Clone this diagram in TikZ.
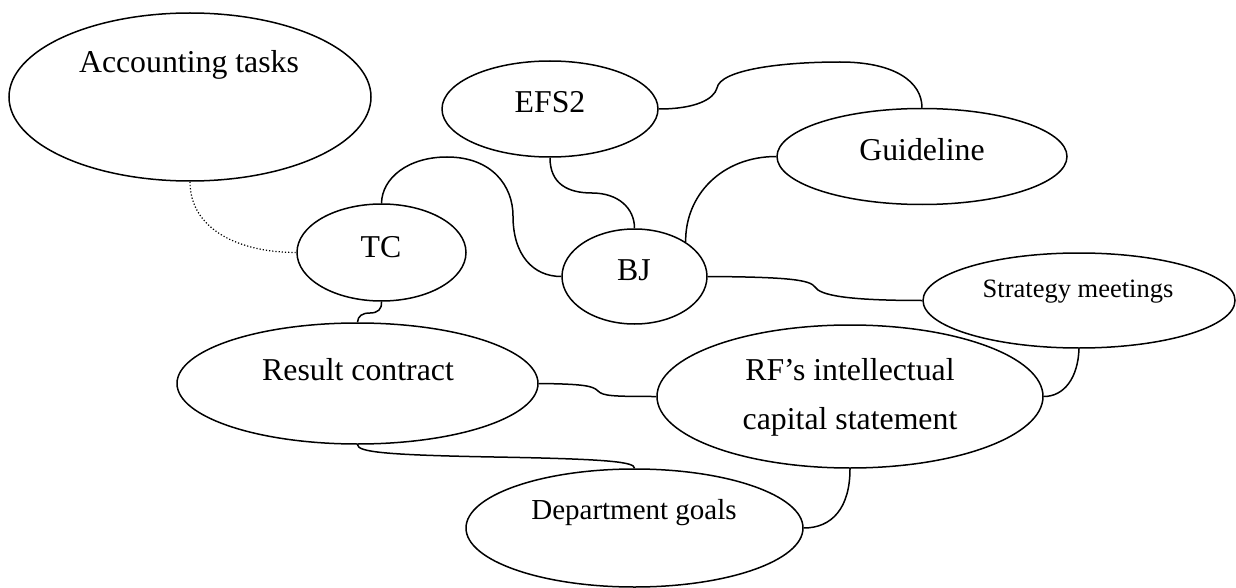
\documentclass[tikz,border=0pt]{standalone}
\usepackage{fontspec}
\setmainfont{Liberation Serif}
\usetikzlibrary{shapes.geometric}
\begin{document}
\begin{tikzpicture}[x=1pt,y=-1pt,
  oval/.style={ellipse,draw=black,line width=1.5pt,inner sep=0pt,fill=white},
  lbl/.style={inner sep=0pt,font=\fontsize{31.8}{49}\selectfont,align=center},
  lblsmall/.style={inner sep=0pt,font=\fontsize{26.5}{32}\selectfont},
  lblmid/.style={inner sep=0pt,font=\fontsize{29}{34}\selectfont},
  link/.style={draw=black,line width=1.5pt},
  weak/.style={draw=black,line width=1.2pt,dotted}]
\useasboundingbox (0,0) rectangle (1236,588);

% ---- ellipses ----
\node[oval,minimum width=362pt,minimum height=168pt] (acc) at (190,97) {};
\node[oval,minimum width=216pt,minimum height=96pt]  (efs) at (550,109) {};
\node[oval,minimum width=290pt,minimum height=96pt]  (gui) at (922,156.5) {};
\node[oval,minimum width=169pt,minimum height=97pt]  (tc)  at (381.5,252.5) {};
\node[oval,minimum width=145pt,minimum height=95pt]  (bj)  at (634.5,276.5) {};
\node[oval,minimum width=312pt,minimum height=95pt]  (str) at (1079,300.5) {};
\node[oval,minimum width=361pt,minimum height=121pt] (res) at (357.5,383.5) {};
\node[oval,minimum width=386pt,minimum height=143pt] (rf)  at (850,396.5) {};
\node[oval,minimum width=337pt,minimum height=118pt] (dep) at (634.5,528) {};

% ---- labels ----
\node[lbl] (accT) at (189,65) {Accounting tasks};
\node[lbl] (efsT) at (550,102) {EFS2};
\node[lbl] (guiT) at (922,150) {Guideline};
\node[lbl] (tcT)  at (381,247) {TC};
\node[lbl] (bjT)  at (634,270) {BJ};
\node[lblsmall] (strT) at (1078,292) {Strategy meetings};
\node[lbl] (resT) at (358,370) {Result contract};
\node[lbl] (rfT)  at (850,397) {RF’s intellectual\\capital statement};
\node[lblmid] (depT) at (634,513) {Department goals};

% ---- connectors ----
\draw[weak] (acc.south) .. controls (190,230) and (240,252.5) .. (tc.west);

\draw[link] (tc.north) .. controls (382,178) and (408,157) .. (447,157)
  .. controls (492,157) and (513,186) .. (513,216)
  .. controls (513,255) and (533,276.5) .. (bj.west);

\draw[link] (efs.south) .. controls (550,184) and (568,193) .. (592,193)
  .. controls (618,193) and (634.5,208) .. (bj.north);

\draw[link] (efs.east) .. controls (696,109) and (714,99) .. (717,88)
  .. controls (720,70) and (780,62) .. (840,62)
  .. controls (895,62) and (922,82) .. (gui.north);

\draw[link] (bj.34) .. controls (685,195) and (722,156.5) .. (gui.west);

\draw[link] (bj.east) .. controls (790,277) and (810,280) .. (815,287)
  .. controls (820,295) and (845,300.5) .. (str.west);

\draw[link] (str.south) .. controls (1078,378) and (1064,396.5) .. (rf.east);

\draw[link] (tc.south) .. controls (382,309) and (378,313) .. (370,313)
  .. controls (362,313) and (358,316) .. (res.north);

\draw[link] (res.east) .. controls (585,384) and (593,386) .. (598,391)
  .. controls (603,396) and (612,396.5) .. (rf.west);

\draw[link] (res.south) .. controls (358,452) and (385,455) .. (494,457)
  .. controls (610,459) and (634.5,462) .. (dep.north);

\draw[link] (rf.south) .. controls (850,508) and (832,528) .. (dep.east);
\end{tikzpicture}
\end{document}
